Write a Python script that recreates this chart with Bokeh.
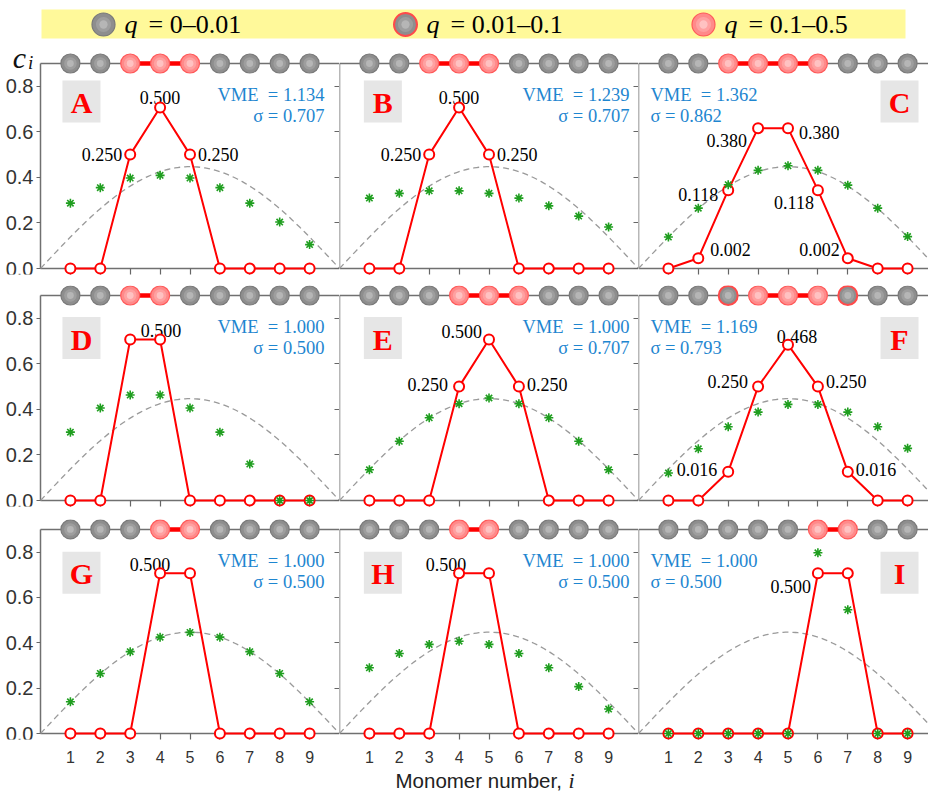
import numpy as np
from bokeh.plotting import figure
from bokeh.layouts import gridplot, column
from bokeh.models import Range1d, FixedTicker, LinearAxis, PrintfTickFormatter
from bokeh.core.properties import value
from bokeh.embed import file_html
from bokeh.resources import INLINE

# ---------------- data ----------------
monomers = [1, 2, 3, 4, 5, 6, 7, 8, 9]
y_ticks = [0.0, 0.2, 0.4, 0.6, 0.8]
panel_ids = ["A", "B", "C", "D", "E", "F", "G", "H", "I"]

# red amplitudes c_i
c_A = [0, 0, 0.500, 0.707, 0.500, 0, 0, 0, 0]
c_B = [0, 0, 0.500, 0.707, 0.500, 0, 0, 0, 0]
c_C = [0, 0.045, 0.344, 0.616, 0.616, 0.344, 0.045, 0, 0]
c_D = [0, 0, 0.707, 0.707, 0, 0, 0, 0, 0]
c_E = [0, 0, 0, 0.500, 0.707, 0.500, 0, 0, 0]
c_F = [0, 0, 0.126, 0.500, 0.684, 0.500, 0.126, 0, 0]
c_G = [0, 0, 0, 0.707, 0.707, 0, 0, 0, 0]
c_H = [0, 0, 0, 0.707, 0.707, 0, 0, 0, 0]
c_I = [0, 0, 0, 0, 0, 0.707, 0.707, 0, 0]

# green stars
g_A = [0.287, 0.355, 0.397, 0.409, 0.397, 0.355, 0.287, 0.204, 0.105]
g_B = [0.309, 0.330, 0.341, 0.341, 0.330, 0.309, 0.275, 0.230, 0.182]
g_C = [0.138, 0.265, 0.368, 0.431, 0.451, 0.431, 0.366, 0.265, 0.140]
g_D = [0.300, 0.406, 0.463, 0.463, 0.406, 0.300, 0.160, 0.0, 0.0]
g_E = [0.135, 0.260, 0.363, 0.425, 0.450, 0.425, 0.363, 0.260, 0.135]
g_F = [0.121, 0.227, 0.324, 0.388, 0.422, 0.422, 0.388, 0.324, 0.229]
g_G = [0.140, 0.265, 0.361, 0.425, 0.446, 0.425, 0.361, 0.265, 0.140]
g_H = [0.290, 0.353, 0.393, 0.407, 0.393, 0.353, 0.290, 0.207, 0.108]
g_I = [0.0, 0.0, 0.0, 0.0, 0.0, 0.797, 0.546, 0.0, 0.0]

# chain states: 0 -> q=0-0.01, 1 -> q=0.01-0.1, 2 -> q=0.1-0.5
ch_A = [0, 0, 2, 2, 2, 0, 0, 0, 0]
ch_B = [0, 0, 2, 2, 2, 0, 0, 0, 0]
ch_C = [0, 0, 2, 2, 2, 2, 0, 0, 0]
ch_D = [0, 0, 2, 2, 0, 0, 0, 0, 0]
ch_E = [0, 0, 0, 2, 2, 2, 0, 0, 0]
ch_F = [0, 0, 1, 2, 2, 2, 1, 0, 0]
ch_G = [0, 0, 0, 2, 2, 0, 0, 0, 0]
ch_H = [0, 0, 0, 2, 2, 0, 0, 0, 0]
ch_I = [0, 0, 0, 0, 0, 2, 2, 0, 0]

vme_vals = ["1.134", "1.239", "1.362", "1.000", "1.000", "1.169", "1.000", "1.000", "1.000"]
sigma_vals = ["0.707", "0.707", "0.862", "0.500", "0.707", "0.793", "0.500", "0.500", "0.500"]

# value labels: (monomer, text)
lab_A = [(3, "0.250"), (4, "0.500"), (5, "0.250")]
lab_B = [(3, "0.250"), (4, "0.500"), (5, "0.250")]
lab_C = [(2, "0.002"), (3, "0.118"), (4, "0.380"), (5, "0.380"), (6, "0.118"), (7, "0.002")]
lab_D = [(4, "0.500")]
lab_E = [(4, "0.250"), (5, "0.500"), (6, "0.250")]
lab_F = [(3, "0.016"), (4, "0.250"), (5, "0.468"), (6, "0.250"), (7, "0.016")]
lab_G = [(4, "0.500")]
lab_H = [(4, "0.500")]
lab_I = [(6, "0.500")]

legend_texts = ["= 0\u20130.01", "= 0.01\u20130.1", "= 0.1\u20130.5"]

# theoretical standing-wave curve (dashed)
WAVE_AMP = 0.447
CHAIN_LEN = 10

# ---------------- layout / style ----------------
c_data = dict(A=c_A, B=c_B, C=c_C, D=c_D, E=c_E, F=c_F, G=c_G, H=c_H, I=c_I)
g_data = dict(A=g_A, B=g_B, C=g_C, D=g_D, E=g_E, F=g_F, G=g_G, H=g_H, I=g_I)
ch_data = dict(A=ch_A, B=ch_B, C=ch_C, D=ch_D, E=ch_E, F=ch_F, G=ch_G, H=ch_H, I=ch_I)
lab_data = dict(A=lab_A, B=lab_B, C=lab_C, D=lab_D, E=lab_E, F=lab_F, G=lab_G, H=lab_H, I=lab_I)

# (align, baseline, dx, dy) per label
lab_place = dict(
    A=[("right", "middle", -8, 0), ("center", "alphabetic", 0, -10), ("left", "middle", 8, 0)],
    B=[("right", "middle", -8, 0), ("center", "alphabetic", 0, -10), ("left", "middle", 8, 0)],
    C=[("left", "middle", 12, -9), ("right", "middle", -10, 4), ("right", "middle", -11, 12),
       ("left", "middle", 11, 4), ("right", "middle", -4, 12), ("right", "middle", -8, -9)],
    D=[("center", "alphabetic", 1, -9)],
    E=[("right", "middle", -11, -2), ("right", "middle", -7, -8), ("left", "middle", 8, -2)],
    F=[("right", "middle", -11, -2), ("right", "middle", -10, -5), ("center", "alphabetic", 9, -8),
       ("left", "middle", 8, -5), ("left", "middle", 8, -2)],
    G=[("center", "alphabetic", -10, -9)],
    H=[("center", "alphabetic", -13, -9)],
    I=[("right", "middle", -7, 13)],
)

SANS = "Liberation Sans"
SERIF = "Liberation Serif"
BLUE = "#1e86d0"
RED = "#ff0000"
GREEN = "#1f9e1f"
FRAME = "#707070"
TICKC = "#666666"

PPU = 205 / 0.9           # pixels per unit of c_i
PPX = 29.9                # pixels per monomer
TOP = 0.9
Y_START = -6 / PPU

col_w = [339, 299, 290]
col_left = [40, 0, 0]     # frame pixels left of x = 0
row_h = [240, 232, 253]
row_top = [0, 5, 7]       # top border
row_pad = [23, 10, 10]    # frame pixels above the chain line
row_bot = [6, 6, 25]
vme_x = [9.5, 9.7, 0.4]
vme_align = ["right", "right", "left"]
vme_y = [0.76, 0.668]
box_x = [1.37, 1.45, 8.73]
box_y = [0.733, 0.713, 0.709]

ball_fill = {0: "#8e8e8e", 1: "#8e8e8e", 2: "#ff8a8a"}
ball_line = {0: "#7a7a7a", 1: "#ff4a4a", 2: "#ff5a5a"}
ball_mid = {0: "#a2a2a2", 1: "#a2a2a2", 2: "#ffa6a6"}
ball_in = {0: "#bcbcbc", 1: "#bcbcbc", 2: "#ffcaca"}


def draw_balls(p, xs, ys, states, size):
    p.scatter(xs, ys, size=size, fill_color=[ball_fill[s] for s in states],
              line_color=[ball_line[s] for s in states],
              line_width=[2.0 if s == 1 else 1.2 for s in states])
    p.scatter(xs, ys, size=size * 0.66, fill_color=[ball_mid[s] for s in states],
              line_color=None, fill_alpha=0.8)
    p.scatter(xs, ys, size=size * 0.36, fill_color=[ball_in[s] for s in states],
              line_color=None, fill_alpha=0.8)


def make_panel(k, row, col):
    pid = panel_ids[k]
    xstart = -col_left[col] / PPX
    xend = xstart + col_w[col] / PPX
    yend = TOP + row_pad[row] / PPU
    p = figure(width=col_w[col], height=row_h[row], x_range=Range1d(xstart, xend),
               y_range=Range1d(Y_START, yend), output_backend="svg",
               toolbar_location=None, tools="")
    p.min_border_left = 0
    p.min_border_right = 0
    p.min_border_top = row_top[row]
    p.min_border_bottom = row_bot[row]
    p.outline_line_color = None
    p.grid.visible = False

    # x axis
    xa = p.xaxis[0]
    xa.axis_line_color = None
    if row == 2:
        xa.ticker = FixedTicker(ticks=monomers)
        xa.major_tick_in = 6
        xa.major_tick_out = 0
        xa.major_tick_line_color = TICKC
        xa.major_tick_line_width = 1.2
        xa.minor_tick_line_color = None
        xa.major_label_text_font = SANS
        xa.major_label_text_font_size = "16px"
        xa.major_label_text_color = "#333333"
        xa.major_label_standoff = 11
    else:
        xa.ticker = FixedTicker(ticks=[], minor_ticks=monomers)
        xa.major_tick_line_color = None
        xa.minor_tick_in = 6
        xa.minor_tick_out = 0
        xa.minor_tick_line_color = TICKC
        xa.minor_tick_line_width = 1.2
        xa.major_label_standoff = 0

    # y axis
    ya = p.yaxis[0]
    if col == 0:
        ya.fixed_location = 0
        ya.ticker = FixedTicker(ticks=y_ticks)
        ya.formatter = PrintfTickFormatter(format="%.1f")
        ya.axis_line_color = None
        ya.major_tick_in = 0
        ya.major_tick_out = 4
        ya.minor_tick_line_color = None
        ya.major_tick_line_color = TICKC
        ya.major_tick_line_width = 1.2
        ya.major_label_text_font = SANS
        ya.major_label_text_font_size = "20px"
        ya.major_label_text_color = "#333333"
        ya.major_label_standoff = 3
    else:
        ya.visible = False
    if col < 2:
        ra = LinearAxis(ticker=FixedTicker(ticks=[], minor_ticks=y_ticks), axis_line_color=None,
                        major_tick_line_color=None, minor_tick_in=5, minor_tick_out=0,
                        minor_tick_line_color=TICKC, minor_tick_line_width=1.2,
                        major_label_standoff=0)
        p.add_layout(ra, "right")

    # frame lines (left, bottom, top / chain backbone)
    p.segment(x0=[0, 0, 0], y0=[0, 0, TOP], x1=[0, CHAIN_LEN, CHAIN_LEN], y1=[TOP, 0, TOP],
              line_color=FRAME, line_width=1.5)

    # dashed theoretical curve
    xs = np.linspace(0, CHAIN_LEN, 121)
    p.line(xs, WAVE_AMP * np.sin(np.pi * xs / CHAIN_LEN), line_color="#9a9a9a",
           line_dash="6 4", line_width=1.3)

    # red amplitude line; circles and stars above the tick marks
    cv = c_data[pid]
    p.line(monomers, cv, line_color=RED, line_width=2)
    p.scatter(monomers, cv, size=10, fill_color="white", line_color=RED, line_width=2,
              level="overlay")
    p.scatter(monomers, g_data[pid], marker="asterisk", size=9, line_color=GREEN,
              line_width=1.6, level="overlay")

    # chain of monomers
    st = ch_data[pid]
    lx0, lx1 = [], []
    for i in range(len(st) - 1):
        if st[i] == 2 and st[i + 1] == 2:
            lx0.append(monomers[i])
            lx1.append(monomers[i + 1])
    if lx0:
        p.segment(x0=lx0, y0=[TOP] * len(lx0), x1=lx1, y1=[TOP] * len(lx0),
                  line_color=RED, line_width=4.5)
    draw_balls(p, monomers, [TOP] * len(monomers), st, 19)

    # value labels
    for (m, txt), (al, bl, dx, dy) in zip(lab_data[pid], lab_place[pid]):
        yv = cv[monomers.index(m)]
        p.text(x=[m], y=[yv], text=[txt], x_offset=dx, y_offset=dy, text_align=al,
               text_baseline=bl, text_font=value(SERIF), text_font_size="18px",
               text_color="black")

    # VME / sigma
    p.text(x=[vme_x[col], vme_x[col]], y=vme_y,
           text=["VME\u2002= " + vme_vals[k], "\u03c3 = " + sigma_vals[k]],
           text_align=vme_align[col], text_baseline="alphabetic",
           text_font=value(SERIF), text_font_size="18.5px", text_color=BLUE)

    # panel letter
    p.rect(x=[box_x[col]], y=[box_y[row]], width=38, height=42, width_units="screen",
           height_units="screen", fill_color="#e6e6e6", line_color=None)
    p.text(x=[box_x[col]], y=[box_y[row]], text=[pid], text_align="center",
           text_baseline="middle", text_font=value(SERIF), text_font_style="bold",
           text_font_size="30px", text_color=RED, y_offset=1)
    return p


panels = []
for r in range(3):
    row = []
    for c in range(3):
        row.append(make_panel(r * 3 + c, r, c))
    panels.append(row)

# y label c_i (inside A's extended frame)
pA = panels[0][0]
pA.text(x=[-0.93], y=[0.925], text=["c"], text_font=value(SERIF), text_font_style="italic",
        text_font_size="30px", text_baseline="alphabetic", text_align="left", text_color="#111111")
pA.text(x=[-0.42], y=[0.905], text=["i"], text_font=value(SERIF), text_font_style="italic",
        text_font_size="19px", text_baseline="alphabetic", text_align="left", text_color="#111111")

# legend band
lg = figure(width=928, height=40, x_range=Range1d(0, 928), y_range=Range1d(0, 40),
            output_backend="svg", toolbar_location=None, tools="")
lg.min_border_left = lg.min_border_right = lg.min_border_top = lg.min_border_bottom = 0
lg.axis.visible = False
lg.grid.visible = False
lg.outline_line_color = None
lg.quad(left=[41], right=[905], bottom=[2], top=[31], fill_color="#fff99a", line_color=None)
leg_states = [0, 1, 2]
leg_x = [103, 405, 703]
draw_balls(lg, leg_x, [16, 16, 16], leg_states, 23)
for lx, t in zip(leg_x, legend_texts):
    lg.text(x=[lx + 21], y=[16], text=["q"], text_font=value(SERIF), text_font_style="italic",
            text_font_size="26px", text_baseline="middle", text_align="left", text_color="black")
    lg.text(x=[lx + 45], y=[16], text=[t], text_font=value(SERIF),
            text_font_size="26px", text_baseline="middle", text_align="left", text_color="black")

# x-axis title
tf = figure(width=928, height=28, x_range=Range1d(0, 928), y_range=Range1d(0, 28),
            output_backend="svg", toolbar_location=None, tools="")
tf.min_border_left = tf.min_border_right = tf.min_border_top = tf.min_border_bottom = 0
tf.axis.visible = False
tf.grid.visible = False
tf.outline_line_color = None
tf.text(x=[395], y=[13], text=["Monomer number,"], text_font=value(SANS), text_font_size="20.5px",
        text_baseline="alphabetic", text_align="left", text_color="#222222")
tf.text(x=[568], y=[13], text=["i"], text_font=value(SERIF), text_font_style="italic",
        text_font_size="22px", text_baseline="alphabetic", text_align="left", text_color="#222222")

grid = gridplot(panels, toolbar_location=None)
layout = column(lg, grid, tf)

open("out.html", "w").write(file_html(layout, INLINE))
